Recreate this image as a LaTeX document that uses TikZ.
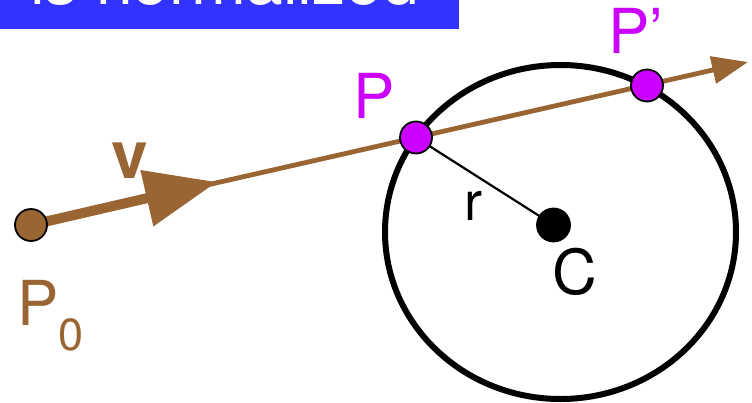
\documentclass[tikz,border=0pt]{standalone}
\usepackage{fontspec}
\setmainfont{TeX Gyre Heros}
\usetikzlibrary{arrows.meta,backgrounds}
\definecolor{raybrown}{HTML}{996633}
\definecolor{hitpink}{HTML}{CC00FF}
\definecolor{bannerblue}{HTML}{3333FF}
\tikzset{
  hitdot/.style={circle,draw=black,line width=1.8pt,minimum size=32pt,inner sep=0pt},
  lbl/.style={anchor=base west,inner sep=0pt,font=\fontsize{62}{70}\selectfont},
}
\begin{document}
\begin{tikzpicture}[x=1pt,y=-1pt]
\useasboundingbox (0,0) rectangle (752,402);
\clip (0,0) rectangle (752,402);

% banner, cut off at the top
\fill[bannerblue] (0,0) rectangle (459,29);
\node[lbl,white,font=\fontsize{66}{72}\selectfont] (banner) at (30,4) {is normalized};

\node[hitdot,fill=raybrown] (p0) at (31,225) {};
\node[hitdot,fill=hitpink] (p) at (416,137.5) {};
\node[hitdot,fill=hitpink] (pp) at (647,85.5) {};
\node[hitdot,fill=black,minimum size=33pt] (c) at (553.5,225) {};
\coordinate (vtip) at (217,182);
\coordinate (raytip) at (748,62);

\begin{scope}[on background layer]
\draw[line width=6pt] (560.5,232) ellipse [x radius=175.5, y radius=167];
\draw[line width=2.2pt] (p.center) -- (c.center);
\draw[raybrown,line width=4.8pt,-{Triangle[length=36pt,width=27pt]}] (p0.center) -- (raytip);
\draw[raybrown,line width=10pt,-{Triangle[length=72pt,width=55pt]}] (p0.center) -- (vtip);
\end{scope}

\node[lbl,raybrown,font=\bfseries\fontsize{66}{70}\selectfont] (vlabel) at (111,178) {v};
\node[lbl,raybrown] (p0label) at (17,325) {P};
\node[lbl,raybrown,font=\fontsize{45}{50}\selectfont] (p0sub) at (58,350) {0};
\node[lbl,hitpink] (plabel) at (353,118) {P};
\node[lbl,hitpink] (pplabel) at (608,53) {P’};
\node[lbl,font=\fontsize{54}{60}\selectfont] (rlabel) at (464,220) {r};
\node[lbl] (clabel) at (552,294) {C};
\end{tikzpicture}
\end{document}
